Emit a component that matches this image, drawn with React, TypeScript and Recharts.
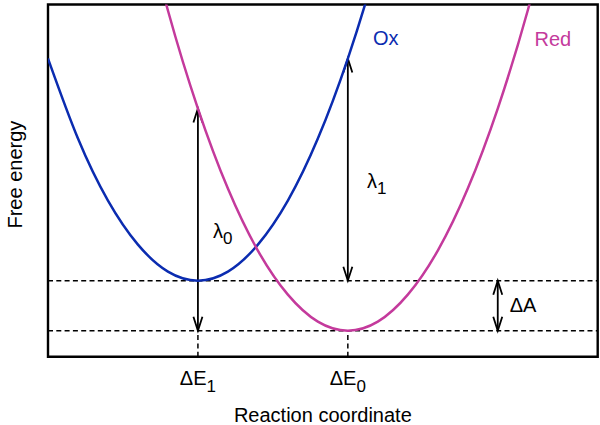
import React from 'react';
import { LineChart, Line, XAxis, YAxis, ReferenceLine, ReferenceArea, ReferenceDot } from 'recharts';

// Reaction coordinate samples and free-energy values
const reactionCoord = [-1.0, -0.8, -0.6, -0.4, -0.2, 0, 0.2, 0.4, 0.6, 0.8, 1.0, 1.2, 1.4, 1.6, 1.8, 2.0, 2.2, 2.4];
const oxEnergy: (number | null)[] = [2.98, 2.18, 1.56, 1.12, 0.85, 0.76, 0.85, 1.12, 1.56, 2.18, 2.98, 3.96, 5.11, null, null, null, null, null];
const redEnergy: (number | null)[] = [null, null, null, 4.61, 3.46, 2.48, 1.68, 1.06, 0.62, 0.35, 0.26, 0.35, 0.62, 1.06, 1.68, 2.48, 3.46, 4.61];

// Tick positions and labels
const tickValues = [0, 1];
const tickLabels = [['ΔE', '1'], ['ΔE', '0']];

// Levels
const oxMin = 0.76;
const redMin = 0.26;
const xDomain: [number, number] = [-1, 8 / 3];
const yDomain: [number, number] = [0, 3.52];

// Arrows: [x, yFrom, yTo]
const arrows = [
  [0, 2.48, 0.26],
  [1, 2.98, 0.76],
  [2.0, 0.76, 0.26],
];

// Annotations: text, subscript, x, y, colour
const annotations = [
  { text: 'Ox', sub: '', x: 1.168, y: 3.115, color: '#0b2cb0' },
  { text: 'Red', sub: '', x: 2.245, y: 3.105, color: '#c43a9c' },
  { text: 'λ', sub: '0', x: 0.1, y: 1.186, color: '#000' },
  { text: 'λ', sub: '1', x: 1.128, y: 1.686, color: '#000' },
  { text: 'ΔA', sub: '', x: 2.08, y: 0.447, color: '#000' },
];

const data = reactionCoord.map((x, i) => ({ x, ox: oxEnergy[i], red: redEnergy[i] }));

const FONT = '"Liberation Sans", Arial, sans-serif';
const FS = 20;
const SUB_FS = 17;
const BLUE = '#0b2cb0';
const MAGENTA = '#c43a9c';

const ArrowShape = (props: any) => {
  const { x1, y1, x2, y2 } = props;
  const L = 14;
  const W = 4.5;
  const head = (tx: number, ty: number, fx: number, fy: number) => {
    const dx = tx - fx;
    const dy = ty - fy;
    const len = Math.sqrt(dx * dx + dy * dy) || 1;
    const ux = dx / len;
    const uy = dy / len;
    const bx = tx - ux * L;
    const by = ty - uy * L;
    const px = -uy * W;
    const py = ux * W;
    return `M${bx + px},${by + py} L${tx},${ty} L${bx - px},${by - py}`;
  };
  return (
    <g>
      <line x1={x1} y1={y1} x2={x2} y2={y2} stroke="#000" strokeWidth={1.8} />
      <path d={head(x1, y1, x2, y2)} stroke="#000" strokeWidth={1.8} fill="none" />
      <path d={head(x2, y2, x1, y1)} stroke="#000" strokeWidth={1.8} fill="none" />
    </g>
  );
};

const XTick = (props: any) => {
  const { x, y, payload } = props;
  const idx = tickValues.indexOf(payload.value);
  const lab = tickLabels[idx] || ['', ''];
  return (
    <text x={x} y={y} dy={20} textAnchor="middle" fontFamily={FONT} fontSize={FS} fill="#000">
      <tspan>{lab[0]}</tspan>
      <tspan dy={7} fontSize={SUB_FS}>{lab[1]}</tspan>
    </text>
  );
};

const YLabel = (props: any) => {
  const vb = props.viewBox || { x: 0, y: 0, width: 48, height: 352 };
  const cx = vb.x + 22;
  const cy = vb.y + vb.height / 2 - 6;
  return (
    <text x={cx} y={cy} transform={`rotate(-90, ${cx}, ${cy})`} textAnchor="middle" fontFamily={FONT} fontSize={FS} fill="#000">
      Free energy
    </text>
  );
};

const XLabel = (props: any) => {
  const vb = props.viewBox || { x: 48, y: 356, width: 550, height: 68 };
  return (
    <text x={vb.x + vb.width / 2} y={vb.y + 65.5} textAnchor="middle" fontFamily={FONT} fontSize={FS} fill="#000">
      Reaction coordinate
    </text>
  );
};

const makeTextShape = (a: typeof annotations[number]) => (props: any) => (
  <text x={props.cx} y={props.cy} textAnchor="start" fontFamily={FONT} fontSize={FS} fill={a.color}>
    <tspan>{a.text}</tspan>
    {a.sub ? <tspan dy={6} fontSize={SUB_FS}>{a.sub}</tspan> : null}
  </text>
);

export default function App() {
  return (
    <div style={{ position: 'absolute', left: 0, top: 0 }}>
      <LineChart width={600} height={425} data={data} margin={{ top: 4.5, right: 2.3, left: 0, bottom: 0 }}>
        <XAxis
          dataKey="x"
          type="number"
          domain={xDomain}
          allowDataOverflow
          ticks={tickValues}
          tick={<XTick />}
          tickLine={false}
          axisLine={false}
          height={68.3}
          label={<XLabel />}
        />
        <YAxis
          type="number"
          domain={yDomain}
          allowDataOverflow
          width={48}
          tick={false}
          tickLine={false}
          axisLine={false}
          label={<YLabel />}
        />
        <ReferenceLine y={oxMin} stroke="#000" strokeWidth={1.5} strokeDasharray="5 3.3" />
        <ReferenceLine y={redMin} stroke="#000" strokeWidth={1.5} strokeDasharray="5 3.3" />
        <ReferenceLine segment={[{ x: 0, y: 0 }, { x: 0, y: redMin }]} stroke="#000" strokeWidth={1.5} strokeDasharray="5 3.3" />
        <ReferenceLine segment={[{ x: 1, y: 0 }, { x: 1, y: redMin }]} stroke="#000" strokeWidth={1.5} strokeDasharray="5 3.3" />
        {arrows.map((a, i) => (
          <ReferenceLine key={`ar${i}`} segment={[{ x: a[0], y: a[1] }, { x: a[0], y: a[2] }]} shape={ArrowShape} />
        ))}
        <Line type="natural" dataKey="ox" stroke={BLUE} strokeWidth={2.5} dot={false} isAnimationActive={false} connectNulls={false} />
        <Line type="natural" dataKey="red" stroke={MAGENTA} strokeWidth={2.5} dot={false} isAnimationActive={false} connectNulls={false} />
        {annotations.map((a, i) => (
          <ReferenceDot key={`an${i}`} x={a.x} y={a.y} r={0} shape={makeTextShape(a)} />
        ))}
        <ReferenceArea x1={xDomain[0]} x2={xDomain[1]} y1={yDomain[0]} y2={yDomain[1]} fill="none" stroke="#000" strokeWidth={2.4} ifOverflow="visible" />
      </LineChart>
    </div>
  );
}
